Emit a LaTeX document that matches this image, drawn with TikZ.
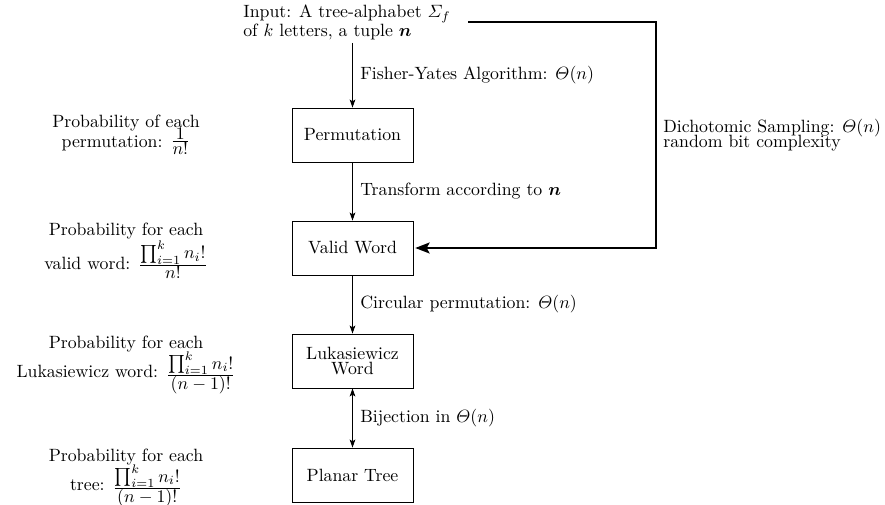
\documentclass[tikz,border=0pt]{standalone}
\usepackage{amsmath,amssymb,bm}
\usetikzlibrary{arrows.meta}
\newcommand{\probfrac}[2]{\frac{\textstyle #1}{\textstyle #2}}
\begin{document}
\begin{tikzpicture}[x=0.5625pt,y=-0.5625pt,
  stagebox/.style={draw,line width=0.5pt,minimum width=68pt,minimum height=30.4pt,align=center,inner sep=2pt},
  thinarrow/.style={-{Stealth[length=4.5pt,width=3.2pt,inset=1pt]},line width=0.45pt},
  biarrow/.style={{Stealth[length=4.5pt,width=3.2pt,inset=1pt]}-{Stealth[length=4.5pt,width=3.2pt,inset=1pt]},line width=0.45pt},
  thickarrow/.style={-{Stealth[length=8pt,width=6pt,inset=1.5pt]},line width=1.6pt},
  edgelabel/.style={anchor=west,inner sep=0pt,align=left},
  problabel/.style={align=center,inner sep=0pt,anchor=north},
  lskip/.style={font={\baselineskip=#1\lineskiplimit=-50pt\lineskip=0pt}}]
\useasboundingbox (0,0) rectangle (885,504);
% input
\node[anchor=north west,inner sep=0pt,align=left,lskip=10.5pt] (input) at (243,4.4)
  {Input: A tree-alphabet $\varSigma_f$\\ of $k$ letters, a tuple $\bm{n}$};
\coordinate (inbot) at (352.5,43);
\coordinate (dstart) at (468,22);
\coordinate (dcorner) at (656,22);
% boxes
\node[stagebox] (perm) at (352.5,135) {Permutation};
\node[stagebox] (valid) at (352.5,248) {Valid Word};
\node[stagebox,lskip=8.6pt] (luk) at (352.5,361) {\raisebox{-1.5pt}{Lukasiewicz}\\\raisebox{-1.5pt}{Word}};
\node[stagebox] (tree) at (352.5,475) {Planar Tree};
% arrows
\draw[thinarrow] (inbot) -- (perm.north);
\draw[thinarrow] (perm.south) -- (valid.north);
\draw[thinarrow] (valid.south) -- (luk.north);
\draw[biarrow] (luk.south) -- (tree.north);
\draw[thickarrow] (dstart) -- (dcorner) |- ([xshift=1pt]valid.east);
% edge labels
\node[edgelabel] (l1) at (360,75.5) {Fisher-Yates Algorithm: $\varTheta(n)$};
\node[edgelabel] (l2) at (360,191.5) {Transform according to $\bm{n}$};
\node[edgelabel] (l3) at (360,304.5) {Circular permutation: $\varTheta(n)$};
\node[edgelabel] (l4) at (360,418) {Bijection in $\varTheta(n)$};
\node[edgelabel] (l5) at (663,135) {Dichotomic Sampling: $\varTheta(n)$\\[-3.6pt]random bit complexity};
% probability labels
\node[problabel,lskip=11.2pt] (p1) at (126,115) {Probability of each\\ permutation: \raisebox{1pt}{$\probfrac{1}{n!}$}};
\node[problabel,lskip=19.2pt] (p2) at (126,222.5) {Probability for each\\ valid word: $\probfrac{\prod_{i=1}^{k} n_i!}{n!}$};
\node[problabel,lskip=16.3pt] (p3) at (126,335.5) {Probability for each\\ Lukasiewicz word: \raisebox{-1.5pt}{$\probfrac{\prod_{i=1}^{k} n_i!}{(n-1)!}$}};
\node[problabel,lskip=16.3pt] (p4) at (126,448.5) {Probability for each\\ tree: \raisebox{-1.5pt}{$\probfrac{\prod_{i=1}^{k} n_i!}{(n-1)!}$}};
\end{tikzpicture}
\end{document}
